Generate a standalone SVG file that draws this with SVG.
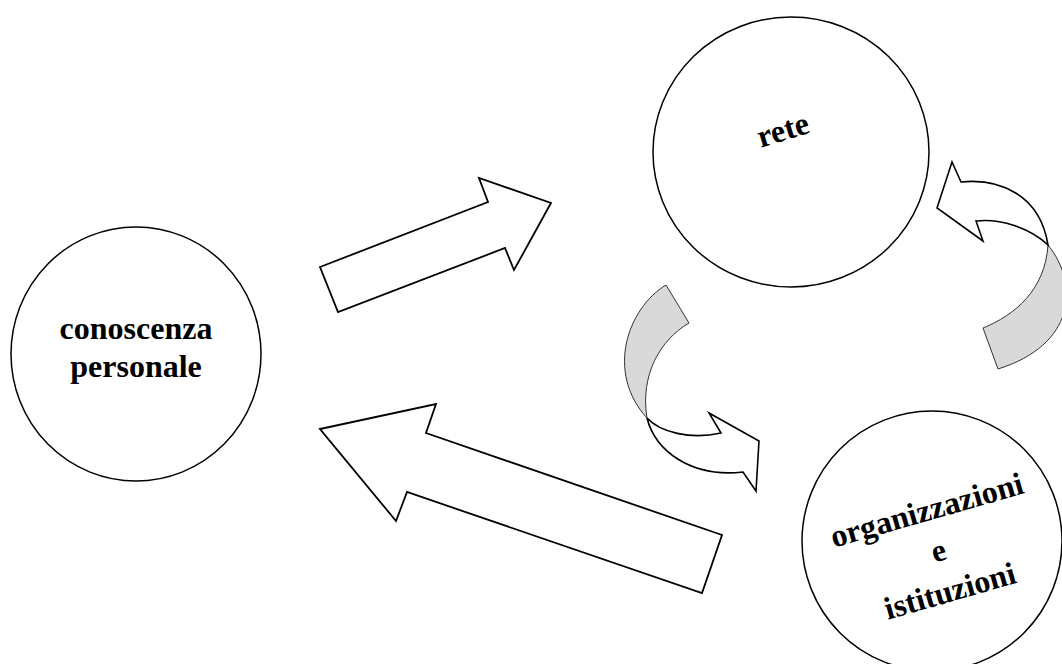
<svg xmlns="http://www.w3.org/2000/svg" width="1062" height="664" viewBox="0 0 1062 664">
<style>
.node{fill:#fff;stroke:#000;stroke-width:1.5}
.lbl{font-family:"Liberation Serif","Times New Roman",serif;font-weight:bold;font-size:32px;fill:#000;text-anchor:middle}
.blk{fill:#fff;stroke:#000;stroke-width:1.8;stroke-linejoin:miter}
.back{fill:#d9d9d9;stroke:#333;stroke-width:1}
.front{fill:#fff;stroke:#000;stroke-width:1.6}
</style>
<rect width="1062" height="664" fill="#fff"/>
<g id="connectors">
<polygon class="blk" points="320,267 488,202 479,178 551,203 514,270 505,248 338,312"/>
<polygon class="blk" points="320,429 436,404 426,433 722,535 702,593 407,492 396,521"/>
<g id="curved-1">
<path class="back" d="M666,285 C628,308 605,372 647,418 C640,375 660,340 689,323 Z"/>
<path class="front" d="M647,418 C655,450 690,478 743,472 L756,491 L759,441 L709,413 L721,433 C690,440 660,432 647,418 Z"/>
</g>
<g id="curved-2">
<path class="back" d="M1048,245 C1080,285 1075,345 998,369 L983,328 C1015,315 1045,290 1048,245 Z"/>
<path class="front" d="M937,208 L952,162 L961,182 C1000,178 1040,195 1048,245 C1030,228 1000,218 976,221 L983,241 Z"/>
</g>
</g>
<g id="node-conoscenza">
<ellipse class="node" cx="136" cy="354" rx="125" ry="127"/>
<text class="lbl" x="136" y="339">conoscenza</text>
<text class="lbl" x="136" y="377">personale</text>
</g>
<g id="node-rete">
<ellipse class="node" cx="791" cy="152" rx="138" ry="135"/>
<text class="lbl" x="786" y="140" transform="rotate(-17 786 140)">rete</text>
</g>
<g id="node-organizzazioni">
<circle class="node" cx="932" cy="541" r="130"/>
<g transform="rotate(-16 940 560)">
<text class="lbl" x="941" y="519">organizzazioni</text>
<text class="lbl" x="941" y="561">e</text>
<text class="lbl" x="941" y="603">istituzioni</text>
</g>
</g>
</svg>
